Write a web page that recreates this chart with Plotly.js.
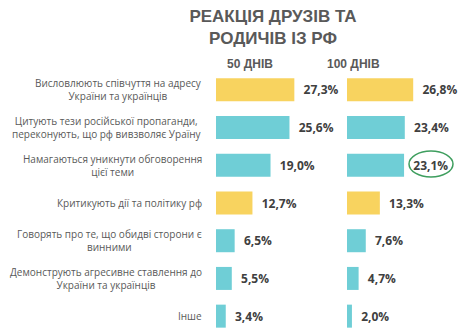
<!DOCTYPE html>
<html>
<head>
<meta charset="utf-8">
<script src="https://cdn.plot.ly/plotly-3.0.1.min.js"></script>
<style>html,body{margin:0;padding:0;background:#fff;}#chart{width:474px;height:335px;}</style>
</head>
<body>
<div id="chart"></div>
<script>
const categories = [
  "Висловлюють співчуття на адресу<br>України та українців",
  "Цитують тези російської пропаганди,<br>переконують, що рф вивзволяє Ураїну",
  "Намагаються уникнути обговорення<br>цієї теми",
  "Критикують дії та політику рф",
  "Говорять про те, що обидві сторони є<br>винними",
  "Демонструють агресивне ставлення до<br>України та українців",
  "Інше"
];
const days50 = [27.3, 25.6, 19.0, 12.7, 6.5, 5.5, 3.4];
const days100 = [26.8, 23.4, 23.1, 13.3, 7.6, 4.7, 2.0];
const seriesNames = ["50 ДНІВ", "100 ДНІВ"];
const titleText = "РЕАКЦІЯ ДРУЗІВ ТА<br>РОДИЧІВ ІЗ РФ";

const YEL = '#F8D35F', TEAL = '#6FCED6';
const rowColors = [YEL, TEAL, TEAL, YEL, TEAL, TEAL, TEAL];
const ids = categories.map((c, i) => 'c' + i);

const W = 474, H = 335, T = 71, PH = H - T;
const py = p => 1 - (p - T) / PH;  // pixel row -> plot-area paper y

const common = {
  type: 'bar', orientation: 'h', y: ids,
  marker: {color: rowColors},
  texttemplate: '\u00a0\u00a0%{x:.1f}%', textposition: 'outside', cliponaxis: false,
  textfont: {family: 'Open Sans, sans-serif', size: 12, color: '#404040', weight: 'bold'},
  hoverinfo: 'none', showlegend: false
};
const traces = [
  Object.assign({}, common, {x: days50, name: seriesNames[0], xaxis: 'x', yaxis: 'y'}),
  Object.assign({}, common, {x: days100, name: seriesNames[1], xaxis: 'x2', yaxis: 'y'})
];

const annotations = categories.map((c, i) => ({
  x: 204 / W, xref: 'paper', xanchor: 'right', y: ids[i], yref: 'y', yanchor: 'middle',
  text: c, showarrow: false, align: 'center',
  font: {family: 'Open Sans, sans-serif', size: 10, color: '#595959'}
}));
annotations.push({x: 250 / W, xref: 'paper', y: py(64), yref: 'paper', yanchor: 'middle', text: '<b>' + seriesNames[0] + '</b>', showarrow: false,
  font: {family: 'Liberation Sans, Arial, sans-serif', size: 12, color: '#595959'}});
annotations.push({x: 382 / W, xref: 'paper', y: py(64), yref: 'paper', yanchor: 'middle', text: '<b>' + seriesNames[1] + '</b>', showarrow: false,
  font: {family: 'Liberation Sans, Arial, sans-serif', size: 12, color: '#595959'}});

const layout = {
  width: W, height: H,
  margin: {l: 0, r: 0, t: T, b: 0},
  paper_bgcolor: '#fff', plot_bgcolor: '#fff',
  separators: ', ',
  bargap: 0.39,
  title: {text: '<b>' + titleText + '</b>', x: 273 / W, xanchor: 'center', y: 1 - 22 / H, yanchor: 'top',
    font: {family: 'Liberation Sans, Arial, sans-serif', size: 17, color: '#595959'}},
  xaxis: {domain: [216 / W, 330 / W], range: [0, 114 / 2.87], visible: false, fixedrange: true},
  xaxis2: {domain: [347 / W, 1], range: [0, 127 / 2.47], visible: false, fixedrange: true},
  yaxis: {type: 'category', autorange: 'reversed', visible: false, fixedrange: true},
  annotations: annotations,
  shapes: [{type: 'circle', xref: 'paper', yref: 'paper',
    x0: 409 / W, x1: 453 / W, y0: py(177), y1: py(151),
    line: {color: '#3E9E5E', width: 1.5}}]
};
Plotly.newPlot('chart', traces, layout, {displayModeBar: false, staticPlot: true});
</script>
</body>
</html>
